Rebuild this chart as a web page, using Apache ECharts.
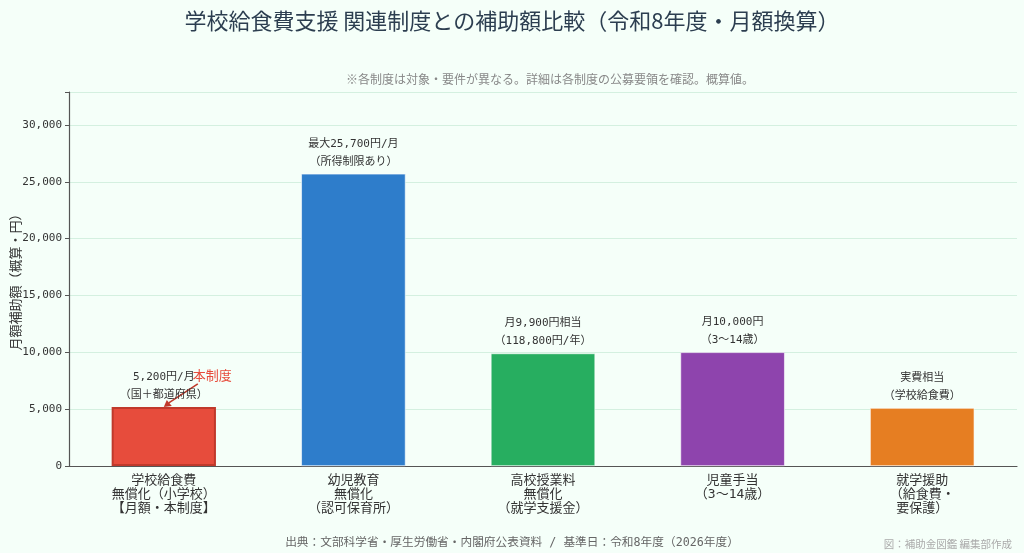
<!DOCTYPE html>
<html>
<head>
<meta charset="utf-8">
<script src="https://cdn.jsdelivr.net/npm/echarts@6/dist/echarts.min.js"></script>
<style>
  html, body { margin: 0; padding: 0; background: #f5fff9; }
  #chart { width: 1024px; height: 553px; }
</style>
</head>
<body>
<div id="chart"></div>
<script>
// カテゴリ・値・ラベル
var categories = [
    '学校給食費\n無償化（小学校）\n【月額・本制度】',
    '幼児教育\n無償化\n（認可保育所）',
    '高校授業料\n無償化\n（就学支援金）',
    '児童手当\n（3〜14歳）',
    '就学援助\n（給食費・\n要保護）'
];
var values = [5200, 25700, 9900, 10000, 5100];
var barLabels = [
    '5,200円/月\n（国＋都道府県）',
    '最大25,700円/月\n（所得制限あり）',
    '月9,900円相当\n（118,800円/年）',
    '月10,000円\n（3〜14歳）',
    '実費相当\n（学校給食費）'
];
var barColors = ['#e74c3c', '#2e7dcb', '#27ae60', '#8e44ad', '#e67e22'];
var yTicks = [0, 5000, 10000, 15000, 20000, 25000, 30000];

var FONT = "'DejaVu Sans Mono', 'Noto Sans CJK JP', monospace";
var CJK = "'Noto Sans CJK JP', sans-serif";

var chart = echarts.init(document.getElementById('chart'));

var option = {
    backgroundColor: '#f5fff9',
    animation: false,
    title: [
        {
            text: '学校給食費支援 関連制度との補助額比較（令和8年度・月額換算）',
            left: 'center',
            top: 5,
            textStyle: { fontFamily: CJK, fontSize: 22, fontWeight: 'normal', color: '#2c3e50' }
        },
        {
            text: '※各制度は対象・要件が異なる。詳細は各制度の公募要領を確認。概算値。',
            left: 545,
            textAlign: 'center',
            top: 68,
            textStyle: { fontFamily: CJK, fontSize: 12, fontWeight: 'normal', color: '#888888' }
        },
        {
            text: '出典：文部科学省・厚生労働省・内閣府公表資料 / 基準日：令和8年度（2026年度）',
            left: 'center',
            top: 532,
            textStyle: { fontFamily: FONT, fontSize: 11.7, fontWeight: 'normal', color: '#666666' }
        },
        {
            text: '図：補助金図鑑 編集部作成',
            right: 7,
            top: 534,
            textStyle: { fontFamily: CJK, fontSize: 10.5, fontWeight: 'normal', color: '#aaaaaa' }
        }
    ],
    grid: { left: 69, right: 7, top: 92, bottom: 87, outerBoundsMode: 'none', containLabel: false },
    xAxis: {
        type: 'category',
        data: categories,
        axisLine: { lineStyle: { color: '#555555', width: 1.2 } },
        axisTick: { alignWithLabel: true, length: 4, lineStyle: { color: '#555555' } },
        axisLabel: { fontFamily: FONT, fontSize: 13, color: '#333333', lineHeight: 14, margin: 8, interval: 0 }
    },
    yAxis: {
        type: 'value',
        min: 0,
        max: 32896,
        interval: 5000,
        name: '月額補助額（概算・円）',
        nameLocation: 'middle',
        nameGap: 47,
        nameMoveOverlap: false,
        nameTextStyle: { fontFamily: CJK, fontSize: 13, color: '#333333' },
        axisLine: { show: true, lineStyle: { color: '#555555', width: 1.2 } },
        axisTick: { show: true, length: 4, lineStyle: { color: '#555555' } },
        axisLabel: {
            fontFamily: FONT, fontSize: 11, color: '#333333', margin: 7,
            formatter: function (v) {
                return yTicks.indexOf(v) >= 0 ? v.toLocaleString('en-US') : '';
            }
        },
        splitLine: { lineStyle: { color: '#d4f0e0', width: 1 } }
    },
    series: [
        {
            type: 'bar',
            barWidth: '55%',
            data: values.map(function (v, i) {
                return {
                    value: v,
                    itemStyle: {
                        color: barColors[i],
                        borderColor: i === 0 ? '#c0392b' : '#ffffff',
                        borderWidth: i === 0 ? 2 : 0.6
                    },
                    label: { formatter: barLabels[i] }
                };
            }),
            label: {
                show: true,
                position: 'top',
                distance: 3,
                fontFamily: FONT,
                fontSize: 11,
                lineHeight: 18,
                color: '#333333'
            }
        }
    ]
};

try {
    chart.setOption(option);
} catch (error) {
    console.error('Error setting the chart option:', error);
}

// 「本制度」注記（棒の上端を指す矢印）
var tip = chart.convertToPixel({ seriesIndex: 0 }, [0, values[0]]);
var tail = [tip[0] + 34, tip[1] - 23];
chart.setOption({
    graphic: [
        {
            type: 'line',
            shape: { x1: tail[0], y1: tail[1], x2: tip[0] + 5, y2: tip[1] - 4 },
            style: { stroke: '#c0392b', lineWidth: 1.6 }
        },
        {
            type: 'polygon',
            shape: {
                points: [
                    [tip[0], tip[1]],
                    [tip[0] + 3, tip[1] - 7],
                    [tip[0] + 8, tip[1] - 1]
                ]
            },
            style: { fill: '#c0392b' }
        },
        {
            type: 'text',
            x: tail[0] - 5,
            y: tail[1] - 15,
            style: { text: '本制度', fill: '#e74c3c', font: "13px 'Noto Sans CJK JP'" }
        }
    ]
});
</script>
</body>
</html>
